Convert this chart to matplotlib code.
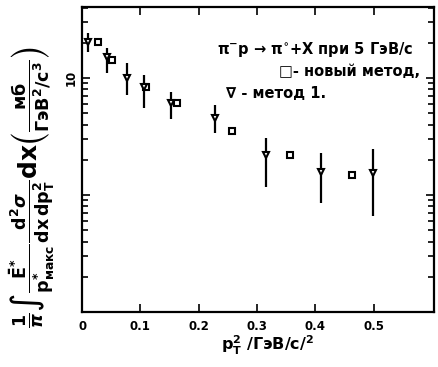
import numpy as np
import matplotlib.pyplot as plt
from matplotlib.ticker import FixedLocator

# data
# method 1 (triangles, with errors)
x_tri = [0.010, 0.043, 0.077, 0.106, 0.153, 0.228, 0.316, 0.410, 0.499]
y_tri = [20.3, 15.1, 10.0, 8.4, 6.1, 4.55, 2.2, 1.57, 1.54]
y_tri_hi = [24.2, 18.0, 13.4, 10.6, 7.6, 5.9, 3.07, 2.29, 2.47]
y_tri_lo = [16.7, 11.0, 7.2, 5.5, 4.5, 3.4, 1.17, 0.855, 0.66]

# new method (squares)
x_sq = [0.027, 0.051, 0.110, 0.163, 0.257, 0.357, 0.463]
y_sq = [20.3, 14.3, 8.4, 6.1, 3.5, 2.2, 1.48]

xticks = [0, 0.1, 0.2, 0.3, 0.4, 0.5]
xtick_labels = ["0", "0.1", "0.2", "0.3", "0.4", "0.5"]

plt.rcParams["font.family"] = ["DejaVu Sans"]
plt.rcParams["font.weight"] = "bold"

fig = plt.figure(figsize=(4.39, 3.67), dpi=100)
ax = fig.add_axes([0.187, 0.150, 0.802, 0.831])

y_tri = np.array(y_tri)
yerr = [y_tri - np.array(y_tri_lo), np.array(y_tri_hi) - y_tri]
ax.errorbar(x_tri, y_tri, yerr=yerr, fmt="v", color="black", mfc="white",
            mec="black", ms=5, mew=1.5, elinewidth=1.6, capsize=0)
ax.plot(x_sq, y_sq, "s", color="black", mfc="white", mew=1.5, ms=5,
        linestyle="none")

ax.set_yscale("log")
ax.set_xlim(0, 0.604)
ax.set_ylim(0.1, 40.5)

ax.set_xticks(xticks)
ax.set_xticklabels(xtick_labels, fontsize=8.5, fontweight="bold")
ax.yaxis.set_major_locator(FixedLocator([0.1, 1, 10]))
ax.set_yticklabels(["", "", "10"], fontsize=8.5, fontweight="bold", rotation=90,
                   va="center")
ax.tick_params(which="both", direction="in", top=True, right=True, width=1.2)
ax.tick_params(which="major", length=6)
ax.tick_params(which="minor", length=4)
ax.tick_params(axis="x", pad=6)
ax.tick_params(axis="y", pad=3)
for s in ax.spines.values():
    s.set_linewidth(1.6)

ax.text(0.94, 0.86, "π$^{-}$p → π$^{\\circ}$+X при 5 ГэВ/с", transform=ax.transAxes,
        ha="right", va="center", fontsize=10.5, fontweight="bold")
ax.text(0.96, 0.79, "□- новый метод,", transform=ax.transAxes,
        ha="right", va="center", fontsize=10.5, fontweight="bold")
ax.text(0.41, 0.715, "∇ - метод 1.", transform=ax.transAxes,
        ha="left", va="center", fontsize=10.5, fontweight="bold")

fig.text(0.61, 0.06, "$\\mathbf{p_T^2}$ /ГэВ/с/$^{\\mathbf{2}}$", ha="center",
         va="center", fontsize=11.5, fontweight="bold")

ylab = (r"$\frac{1}{\pi}\int\frac{\bar{\mathbf{E}}^{*}}{\mathbf{p}^{*}_{\mathrm{макс}}}"
        r"\frac{\mathbf{d}^{2}\sigma}{\mathbf{dx\,dp_T^2}}\mathbf{dx}"
        r"\left(\frac{\mathrm{мб}}{\mathrm{ГэВ}^{2}/\mathrm{c}^{3}}\right)$")
fig.text(0.075, 0.49, ylab, rotation=90, ha="center", va="center", fontsize=18)

plt.savefig("out.png", dpi=100)
